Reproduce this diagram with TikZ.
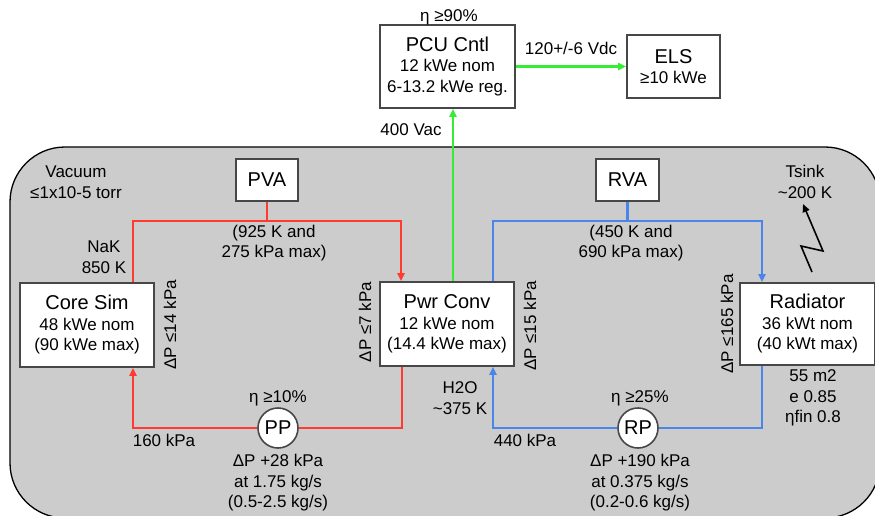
\documentclass[tikz,border=0pt]{standalone}
\usepackage{fontspec}
\setmainfont{Liberation Sans}
\usepackage{tikz}
\usetikzlibrary{arrows.meta,positioning,calc}
\usepackage{xcolor}
\newcommand{\bodyfont}{\fontsize{17}{20.5}\selectfont}
\newcommand{\titlefont}{\fontsize{20}{22}\selectfont}
\definecolor{pipered}{HTML}{FF3B30}
\definecolor{pipeblue}{HTML}{4A86E8}
\definecolor{wiregreen}{HTML}{33EE33}
\tikzset{
  sysbox/.style={draw=black!72, fill=white, line width=1.6pt, align=center, inner sep=0pt, font=\bodyfont},
  pumpnode/.style={draw=black!72, fill=white, circle, line width=1.6pt, minimum size=40pt, inner sep=0pt, font=\titlefont},
  sysnote/.style={align=center, inner sep=0pt, font=\bodyfont},
  redpipe/.style={draw=pipered, line width=2.9pt},
  bluepipe/.style={draw=pipeblue, line width=2.9pt},
  greenwire/.style={draw=wiregreen, line width=2.9pt},
  flowarrow/.style={-{Triangle[length=8pt, width=7pt]}},
}

\begin{document}
\begin{tikzpicture}[x=1pt, y=-1pt]
  \useasboundingbox (0,0) rectangle (875,516);
  % vacuum chamber
  \draw[fill=gray!40, line width=1.3pt, rounded corners=55pt] (10,147) rectangle (880,518);

  \node[sysbox, minimum width=135pt, minimum height=83pt] (pcu) at (447.5,66.5) {{\titlefont PCU Cntl}\\12 kWe nom\\6-13.2 kWe reg.};
  \node[sysbox, minimum width=93pt, minimum height=63pt] (els) at (673.5,66.5) {{\titlefont ELS}\\≥10 kWe};
  \node[sysbox, minimum width=62pt, minimum height=42pt] (pva) at (267,180) {\titlefont PVA};
  \node[sysbox, minimum width=63pt, minimum height=42pt] (rva) at (627.5,180) {\titlefont RVA};
  \node[sysbox, minimum width=134pt, minimum height=84pt] (core) at (87,325) {{\titlefont Core Sim}\\48 kWe nom\\(90 kWe max)};
  \node[sysbox, minimum width=134pt, minimum height=84pt] (pwr) at (447,324) {{\titlefont Pwr Conv}\\12 kWe nom\\(14.4 kWe max)};
  \node[sysbox, minimum width=135pt, minimum height=82pt] (rad) at (807.5,324) {{\titlefont Radiator}\\36 kWt nom\\(40 kWt max)};
  \node[pumpnode] (pp) at (278,428) {PP};
  \node[pumpnode] (rp) at (638,428) {RP};

  % pipe corners
  \coordinate (rtl) at (133,221);
  \coordinate (rtr) at (401,221);
  \coordinate (rbl) at (133,428);
  \coordinate (rbr) at (402,428);
  \coordinate (btl) at (493,221);
  \coordinate (btr) at (762,221);
  \coordinate (bbl) at (493,428);
  \coordinate (bbr) at (762,428);

  % NaK loop
  \draw[redpipe] (pva) -- (pva |- rtl);
  \draw[redpipe, flowarrow] (core.north -| rtl) -- (rtl) -- (rtr) -- (pwr.north -| rtr);
  \draw[redpipe] (pwr.south -| rbr) -- (rbr) -- (pp);
  \draw[redpipe, flowarrow] (pp) -- (rbl) -- (core.south -| rbl);

  % water loop
  \draw[bluepipe] (rva) -- (rva |- btl);
  \draw[bluepipe, flowarrow] (pwr.north -| btl) -- (btl) -- (btr) -- (rad.north -| btr);
  \draw[bluepipe] (rad.south -| bbr) -- (bbr) -- (rp);
  \draw[bluepipe, flowarrow] (rp) -- (bbl) -- (pwr.south -| bbl);

  % electrical
  \draw[greenwire, flowarrow] ([xshift=6pt]pwr.north) -- ([xshift=6pt]pwr.north |- pcu.south);
  \draw[greenwire, flowarrow] (pcu.east) -- (els.west);

  % heat rejection to sink
  \coordinate (zz0) at (812,272);
  \coordinate (zz1) at (801,246);
  \coordinate (zz2) at (823,251);
  \coordinate (zz3) at (803,204);
  \draw[line width=1.6pt, flowarrow] (zz0) -- (zz1) -- (zz2) -- (zz3);

  % labels
  \node[sysnote] (etapcu) at (449,17) {η ≥90\%};
  \node[sysnote] (vdc) at (571,48) {120+/-6 Vdc};
  \node[sysnote] (vac) at (411,130) {400 Vac};
  \node[sysnote] (vacuum) at (76,182) {Vacuum\\≤1x10-5 torr};
  \node[sysnote] (nak) at (104,257) {NaK\\850 K};
  \node[sysnote] (redmax) at (274,243) {(925 K and\\275 kPa max)};
  \node[sysnote] (bluemax) at (631,243) {(450 K and\\690 kPa max)};
  \node[sysnote] (tsink) at (805,182) {Tsink\\\textasciitilde200 K};
  \node[sysnote, rotate=90] (dpcore) at (170,325) {ΔP ≤14 kPa};
  \node[sysnote, rotate=90] (dppwr) at (365,322) {ΔP ≤7 kPa};
  \node[sysnote, rotate=90] (dppwrb) at (530,326) {ΔP ≤15 kPa};
  \node[sysnote, rotate=90] (dprad) at (727,324) {ΔP ≤165 kPa};
  \node[sysnote] (radspec) at (813,398) {55 m2\\e 0.85\\ηfin 0.8};
  \node[sysnote] (etapp) at (278,398) {η ≥10\%};
  \node[sysnote] (etarp) at (640,398) {η ≥25\%};
  \node[sysnote] (prpp) at (164,440) {160 kPa};
  \node[sysnote] (prrp) at (525,440) {440 kPa};
  \node[sysnote] (water) at (460,398) {H2O\\\textasciitilde375 K};
  \node[sysnote] (ppspec) at (278,483) {ΔP +28 kPa\\at 1.75 kg/s\\(0.5-2.5 kg/s)};
  \node[sysnote] (rpspec) at (640,483) {ΔP +190 kPa\\at 0.375 kg/s\\(0.2-0.6 kg/s)};
\end{tikzpicture}
\end{document}
